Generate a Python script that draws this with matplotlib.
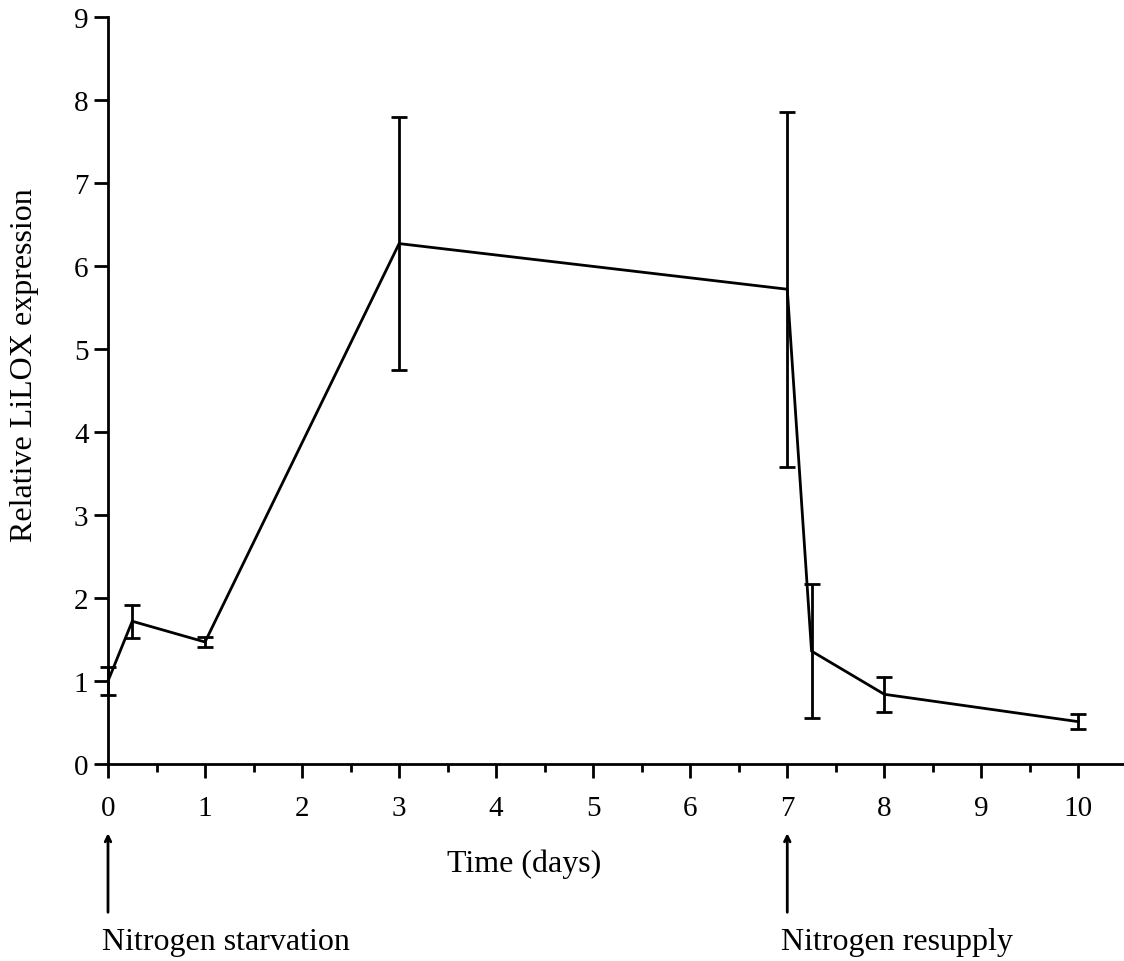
import numpy as np
import matplotlib.pyplot as plt
from matplotlib.ticker import MultipleLocator

# data
days = [0, 0.25, 1, 3, 7, 7.25, 8, 10]
expression = [1.0, 1.72, 1.47, 6.27, 5.72, 1.36, 0.84, 0.51]
err = [0.17, 0.20, 0.06, 1.52, 2.14, 0.81, 0.21, 0.09]

plt.rcParams['font.family'] = ['Liberation Serif', 'DejaVu Serif']

fig = plt.figure(figsize=(11.24, 9.62), dpi=100)
ax = fig.add_axes([108 / 1124, 1 - 765 / 962, 1 - 108 / 1124, (765 - 18) / 962])

ax.errorbar(days, expression, yerr=err, color='black', linewidth=2.0,
            elinewidth=2.0, capsize=6, capthick=2.0, clip_on=False)

ax.set_xlim(0, 10.47)
ax.set_ylim(0, 9)
ax.xaxis.set_major_locator(MultipleLocator(1))
ax.xaxis.set_minor_locator(MultipleLocator(0.5))
ax.yaxis.set_major_locator(MultipleLocator(1))

for s in ['top', 'right']:
    ax.spines[s].set_visible(False)
for s in ['left', 'bottom']:
    ax.spines[s].set_linewidth(2.0)

ax.tick_params(axis='both', which='major', length=10, width=2.0, labelsize=21)
ax.tick_params(axis='x', which='minor', length=6, width=2.0)
ax.tick_params(axis='x', which='major', pad=12)
ax.tick_params(axis='y', which='major', pad=4)

fig.text(25 / 1124, 1 - 365 / 962, 'Relative LiLOX expression', rotation=90,
         ha='center', va='center', fontsize=23)
fig.text(524 / 1124, 1 - 864 / 962, 'Time (days)', ha='center', va='center',
         fontsize=23)

# treatment arrows below the axis
for xpos, label in [(0, 'Nitrogen starvation'), (7, 'Nitrogen resupply')]:
    ax.annotate('', xy=(xpos, -0.8), xytext=(xpos, -1.82),
                arrowprops=dict(arrowstyle='->', color='black', lw=2.0),
                annotation_clip=False)
    ax.text(xpos - 0.06, -2.14, label, ha='left', va='center', fontsize=23)

fig.savefig('out.png', dpi=100)
